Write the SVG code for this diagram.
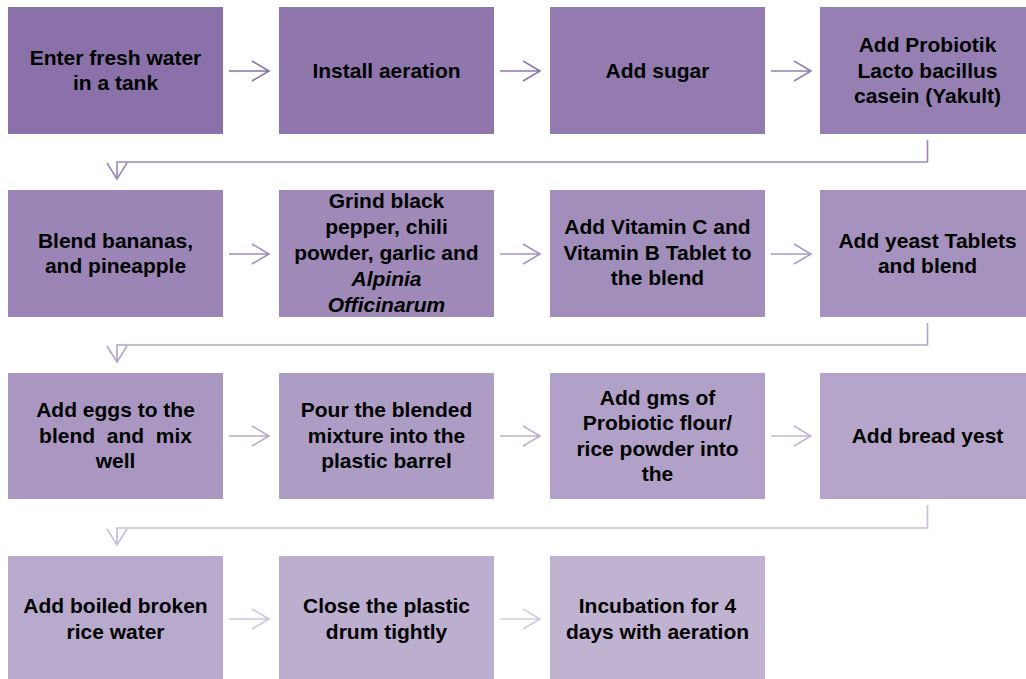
<svg xmlns="http://www.w3.org/2000/svg" width="1026" height="679" viewBox="0 0 1026 679">
<style>
text{font-family:"Liberation Sans",Arial,sans-serif;font-weight:bold;font-size:21px;fill:#000;text-anchor:middle}
.it{font-style:italic}
.c{fill:none;stroke-width:1.6;stroke-linejoin:miter}
</style>
<rect width="1026" height="679" fill="#fff"/>
<g id="connectors">
<g class="c">
<path d="M229 71H269M252 61L269 71L252 81" stroke="#8B72AA"/>
<path d="M500 71H540M523 61L540 71L523 81" stroke="#9179AE"/>
<path d="M771 71H811M794 61L811 71L794 81" stroke="#9680B2"/>
<path d="M927.5 140V162H117V179M107 163L117 179L127 163" stroke="#9C87B6"/>
<path d="M229 254H269M252 244L269 254L252 264" stroke="#A18DBB"/>
<path d="M500 254H540M523 244L540 254L523 264" stroke="#A794BF"/>
<path d="M771 254H811M794 244L811 254L794 264" stroke="#AD9BC3"/>
<path d="M927.5 323V345H117V362M107 346L117 362L127 346" stroke="#B2A2C7"/>
<path d="M229 436H269M252 426L269 436L252 446" stroke="#B8A9CB"/>
<path d="M500 436H540M523 426L540 436L523 446" stroke="#BDB0CF"/>
<path d="M771 436H811M794 426L811 436L794 446" stroke="#C3B6D4"/>
<path d="M927.5 505V528H117V545M107 529L117 545L127 529" stroke="#C9BDD8"/>
<path d="M229 619H269M252 609L269 619L252 629" stroke="#CEC4DC"/>
<path d="M500 619H540M523 609L540 619L523 629" stroke="#D4CBE0"/>
</g>
</g>
<g id="n1"><rect x="8" y="7" width="215" height="127" fill="#8A71A9"/><text x="115.5" y="64.5">Enter fresh water</text><text x="115.5" y="90">in a tank</text></g>
<g id="n2"><rect x="279" y="7" width="215" height="127" fill="#8F77AD"/><text x="386.5" y="77.5">Install aeration</text></g>
<g id="n3"><rect x="550" y="7" width="215" height="127" fill="#937BB0"/><text x="657.5" y="77.5">Add sugar</text></g>
<g id="n4"><rect x="820" y="7" width="215" height="127" fill="#9680B3"/><text x="927.5" y="52">Add Probiotik</text><text x="927.5" y="77.5">Lacto bacillus</text><text x="927.5" y="103">casein (Yakult)</text></g>
<g id="n5"><rect x="8" y="190" width="215" height="127" fill="#9A85B6"/><text x="115.5" y="247.5">Blend bananas,</text><text x="115.5" y="273">and pineapple</text></g>
<g id="n6"><rect x="279" y="190" width="215" height="127" fill="#9E89B8"/><text x="386.5" y="208">Grind black</text><text x="386.5" y="233.5">pepper, chili</text><text x="386.5" y="259.5">powder, garlic and</text><text class="it" x="386.5" y="285.5">Alpinia</text><text class="it" x="386.5" y="311.5">Officinarum</text></g>
<g id="n7"><rect x="550" y="190" width="215" height="127" fill="#A28EBB"/><text x="657.5" y="234">Add Vitamin C and</text><text x="657.5" y="259.5">Vitamin B Tablet to</text><text x="657.5" y="285">the blend</text></g>
<g id="n8"><rect x="820" y="190" width="215" height="127" fill="#A692BE"/><text x="927.5" y="247.5">Add yeast Tablets</text><text x="927.5" y="273">and blend</text></g>
<g id="n9"><rect x="8" y="373" width="215" height="126" fill="#A997C1"/><text x="115.5" y="417">Add eggs to the</text><text x="115.5" y="442.5" xml:space="preserve">blend  and  mix</text><text x="115.5" y="468">well</text></g>
<g id="n10"><rect x="279" y="373" width="215" height="126" fill="#AD9CC4"/><text x="386.5" y="417">Pour the blended</text><text x="386.5" y="442.5">mixture into the</text><text x="386.5" y="468">plastic barrel</text></g>
<g id="n11"><rect x="550" y="373" width="215" height="126" fill="#B1A0C7"/><text x="657.5" y="404.5">Add gms of</text><text x="657.5" y="430">Probiotic flour/</text><text x="657.5" y="455.5">rice powder into</text><text x="657.5" y="481">the</text></g>
<g id="n12"><rect x="820" y="373" width="215" height="126" fill="#B5A5CA"/><text x="927.5" y="442.5">Add bread yest</text></g>
<g id="n13"><rect x="8" y="556" width="215" height="127" fill="#B8AACD"/><text x="115.5" y="613">Add boiled broken</text><text x="115.5" y="638.5">rice water</text></g>
<g id="n14"><rect x="279" y="556" width="215" height="127" fill="#BCAECF"/><text x="386.5" y="613">Close the plastic</text><text x="386.5" y="638.5">drum tightly</text></g>
<g id="n15"><rect x="550" y="556" width="215" height="127" fill="#C0B3D2"/><text x="657.5" y="613">Incubation for 4</text><text x="657.5" y="638.5">days with aeration</text></g>
</svg>
